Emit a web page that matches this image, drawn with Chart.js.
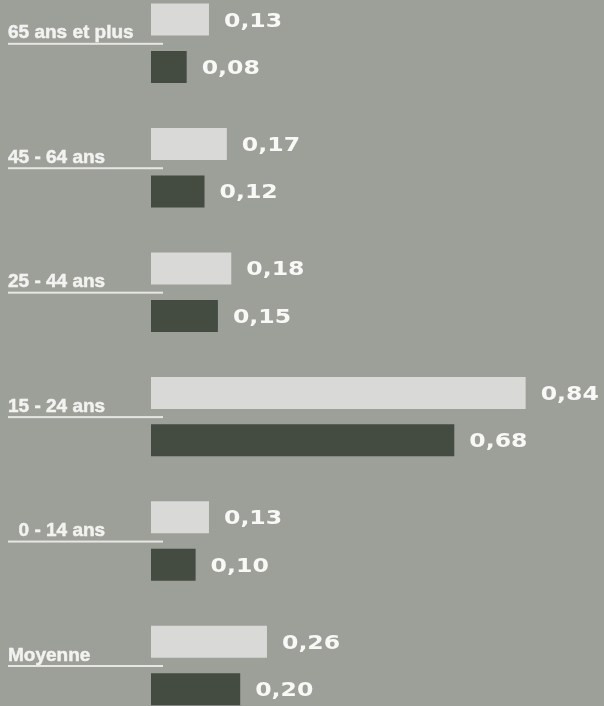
<!DOCTYPE html>
<html>
<head>
<meta charset="utf-8">
<style>
  html, body { margin: 0; padding: 0; background: #9d9f99; }
  #wrap { width: 604px; height: 706px; position: relative; }
</style>
</head>
<body>
<div id="wrap"><canvas id="ageChart"></canvas></div>
<script src="https://cdn.jsdelivr.net/npm/chart.js@4"></script>
<script>
// categories, top to bottom
const categories = ['65 ans et plus', '45 - 64 ans', '25 - 44 ans', '15 - 24 ans', '  0 - 14 ans', 'Moyenne'];
// light bars (first of each pair)
const lightValues = [0.13, 0.17, 0.18, 0.84, 0.13, 0.26];
// dark bars (second of each pair)
const darkValues = [0.08, 0.12, 0.15, 0.68, 0.10, 0.20];

const fmt = v => v.toFixed(2).replace('.', ',');

// draws the category names with their underline, and the value next to each bar
const labelPlugin = {
  id: 'labels',
  afterDatasetsDraw(chart) {
    const ctx = chart.ctx;
    const yScale = chart.scales.y;
    ctx.save();

    // category labels on the left
    ctx.font = 'bold 19px "Liberation Sans", Arial, sans-serif';
    ctx.textAlign = 'left';
    ctx.textBaseline = 'alphabetic';
    ctx.lineWidth = 0.5;
    categories.forEach((name, i) => {
      const cy = yScale.getPixelForValue(i);
      ctx.fillStyle = '#f2f2f0';
      ctx.strokeStyle = '#f2f2f0';
      ctx.fillText(name, 8, cy - 5);
      ctx.strokeText(name, 8, cy - 5);
      ctx.fillStyle = '#e6e6e3';
      ctx.fillRect(8, cy - 0.5, 155, 2);
    });

    // value labels, drawn a bit wider
    ctx.font = 'bold 20px "DejaVu Sans", sans-serif';
    ctx.fillStyle = '#f8f8f6';
    chart.data.datasets.forEach((ds, di) => {
      const meta = chart.getDatasetMeta(di);
      meta.data.forEach((bar, i) => {
        ctx.save();
        ctx.translate(bar.x + 15, bar.y + 7);
        ctx.scale(1.18, 1);
        ctx.fillText(fmt(ds.data[i]), 0, 0);
        ctx.restore();
      });
    });
    ctx.restore();
  }
};

new Chart(document.getElementById('ageChart'), {
  type: 'bar',
  data: {
    labels: categories,
    datasets: [
      {
        data: lightValues,
        backgroundColor: '#d9d9d7',
        categoryPercentage: 0.762,
        barPercentage: 0.675,
        clip: false
      },
      {
        data: darkValues,
        backgroundColor: '#444b41',
        categoryPercentage: 0.762,
        barPercentage: 0.675,
        clip: false
      }
    ]
  },
  options: {
    indexAxis: 'y',
    responsive: true,
    maintainAspectRatio: false,
    animation: false,
    layout: { padding: { left: 151, right: 7, top: 43.3, bottom: 40.5 } },
    plugins: { legend: { display: false }, tooltip: { enabled: false } },
    scales: {
      x: { display: false, min: 0, max: 1 },
      y: { display: false, offset: false }
    }
  },
  plugins: [labelPlugin]
});
</script>
</body>
</html>
